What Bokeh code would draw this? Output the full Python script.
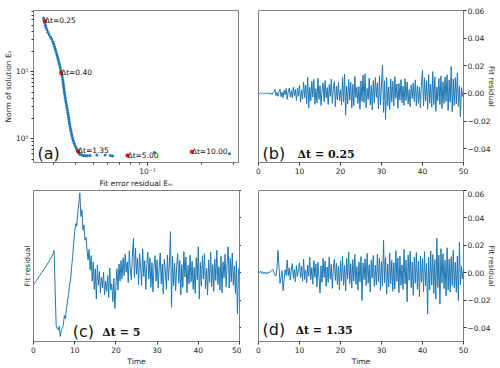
import numpy as np
from bokeh.plotting import figure
from bokeh.layouts import column, row
from bokeh.models import Range1d, FixedTicker, LinearAxis, Label, CustomJSTickFormatter
from bokeh.core.properties import value
from bokeh.embed import file_html
from bokeh.resources import INLINE

# ---------------- panel (a): E_m vs E_s ----------------
Em_curve = [0.02644, 0.02661, 0.02685, 0.02706, 0.02730, 0.02762, 0.02797, 0.02840, 0.02892, 0.02937,
            0.02978, 0.03013, 0.03043, 0.03071, 0.03095, 0.03122, 0.03150, 0.03175, 0.03199, 0.03228,
            0.03252, 0.03273, 0.03294, 0.03320, 0.03341, 0.03363, 0.03380, 0.03393, 0.03406, 0.03419,
            0.03433, 0.03446, 0.03463, 0.03481, 0.03494, 0.03512, 0.03530, 0.03548, 0.03566, 0.03589,
            0.03608, 0.03626, 0.03640, 0.03659, 0.03678, 0.03697, 0.03715, 0.03734, 0.03758, 0.03782,
            0.03807, 0.03836, 0.03871, 0.03910, 0.03956, 0.04012, 0.04064, 0.04116, 0.04164, 0.04235,
            0.04328, 0.04424, 0.04527, 0.04632, 0.04795, 0.05229, 0.05821, 0.06207, 0.06392, 0.1094, 0.2855]
Es_curve = [63.5, 58.56, 54.0, 49.8, 45.9, 42.35, 39.05, 36.0, 33.2, 30.6,
            28.23, 26.03, 24.0, 22.14, 20.41, 18.82, 17.36, 16.0, 14.76, 13.61,
            12.55, 11.57, 10.67, 9.84, 9.07, 8.37, 7.72, 7.11, 6.56, 6.05,
            5.58, 5.14, 4.745, 4.375, 4.034, 3.72, 3.43, 3.162, 2.916, 2.689,
            2.480, 2.287, 2.108, 1.944, 1.793, 1.653, 1.524, 1.406, 1.296, 1.195,
            1.102, 1.016, 0.937, 0.864, 0.797, 0.735, 0.689, 0.645, 0.605, 0.586,
            0.573, 0.565, 0.562, 0.562, 0.565, 0.576, 0.576, 0.565, 0.558, 0.629, 0.601]
Em_marked = [0.02688, 0.03307, 0.04100, 0.07743, 0.1762]
Es_marked = [57.6, 9.68, 0.662, 0.567, 0.641]
marked_labels = ["Δt=0.25", "Δt=0.40", "Δt=1.35", "Δt=5.00", "Δt=10.00"]
a_xticks = [0.1]
a_xtick_labels = {0.1: "10⁻¹"}
a_xminor = [0.03, 0.04, 0.05, 0.06, 0.07, 0.08, 0.09, 0.2, 0.3]
a_yticks = [1, 10]
a_ytick_labels = {1: "10⁰", 10: "10¹"}
a_yminor = [0.5, 0.6, 0.7, 0.8, 0.9, 2, 3, 4, 5, 6, 7, 8, 9, 20, 30, 40, 50, 60, 70, 80]

# ---------------- residual panels (values in units of 1e-3) ----------------
time = np.arange(201) * 0.25
res_b_milli = [
    0.2, -0.3, 0.4, -0.2,  0.3, -0.4, 0.1, -0.3,  0.5, -0.2, 0.3, -0.6,  0.4, -0.9, 0.5, 1.3,
    2.9, -1.6, 0.7, -2.1,  1.2, 3.0, -2.4, 0.9,  -3.1, 2.2, -1.0, 3.6,  -4.3, 1.4, 3.8, -2.6,
    2.0, -3.2, 4.6, -1.5,  2.8, -5.2, 3.9, -2.0,  5.8, -6.3, 2.4, -4.1,  8.2, -3.0, 6.1, -7.4,
    11.6, -10.5, 4.3, -5.2,  8.8, -2.7, 10.1, -7.9,  3.4, -6.8, 10.9, -4.4,  5.6, -8.7, 2.5, 7.5,
    -5.9, 9.4, -3.1, 4.2,  -8.0, 6.4, -2.2, 10.3,  -7.1, 3.3, 8.6, -9.6,  5.1, -4.6, 7.9, -5.3,
    2.7, -8.4, 11.8, -6.2,  13.9, -15.8, 5.2, -7.7,  10.2, -4.9, 8.1, -10.6,  6.6, -8.8, 12.3, -3.2,
    4.5, -7.3, 5.0, -11.4,  9.1, -5.7, 13.2, -6.6,  14.2, -10.4, 3.6, -4.3,  11.0, -8.2, 5.8, -12.1,
    9.4, -6.9, 11.5, -2.8,  7.7, -11.2, 12.8, -8.3,  6.1, 20.6, -13.7, 9.2,  -18.8, 11.4, -9.1, 4.7,
    -11.6, 10.5, -6.2, 8.9,  -9.0, 12.1, -3.5, 6.8,  -10.7, 7.2, -4.8, 9.9,  -6.9, 5.3, -8.6, 10.6,
    -5.1, 8.3, -7.8, 2.9,  -9.6, 6.2, -3.7, 7.6,  -6.1, 9.8, -9.0, 5.5,  -7.2, 4.6, -10.4, 8.1,
    16.7, -8.9, 11.3, -5.6,  9.2, -11.5, 13.6, -7.1,  6.8, -10.0, 15.8, -8.2,  12.0, -13.0, 4.7, -5.3,
    10.8, -8.1, 12.6, -11.0,  8.4, -7.2, 11.9, -5.8,  13.5, -12.2, 9.7, -6.3,  19.4, -13.3, 10.4, -8.7,
    11.5, -7.7, 14.6, -9.4,  5.3, -16.9, 4.1, -2.2,  1.0]
res_c_milli = [
    -8.4, -7.6, -6.5, -5.3,  -4.4, -3.0, -2.1, -0.8,  0.3, 1.2, 2.6, 3.5,  4.9, 5.8, 7.2, 8.1,
    9.6, 11.0, 12.3, 14.0,  16.3, -12.0, -38.2, -40.6,  -41.5, -39.0, -46.3, -42.0,  -40.2, -37.5, -31.0, -33.5,
    -26.0, -20.5, -16.4, -9.0,  -5.0, 4.0, 12.0, 21.4,  30.0, 36.0, 34.0, 44.0,  50.0, 58.3, 41.0, 46.0,
    31.0, 35.0, 23.8, 26.0,  16.6, 9.5, 17.0, 2.0,  12.5, -6.0, 8.0, -12.0,  3.0, -19.0, 5.5, -9.0,
    1.0, -14.5, -3.0, -11.0,  0.5, -16.0, -6.0, -13.5,  -2.0, -18.0, 3.5, -12.5,  -8.0, -21.0, -4.0, -26.0,
    -10.0, 3.0, -12.5, 6.5,  -6.0, 9.0, -4.5, 11.0,  -2.0, 13.5, 0.5, 8.0,  -7.0, 16.0, 2.5, -5.0,
    12.0, 25.0, -3.5, 18.0,  -1.0, 10.5, -8.5, 14.0,  4.0, -9.0, 17.5, -2.5,  9.0, -12.0, 6.0, 15.0,
    -4.5, 11.0, -10.5, 7.5,  -14.0, 5.0, 12.5, -6.0,  9.5, -11.0, 3.0, 14.5,  -8.0, 6.5, -15.5, 10.0,
    1.5, -12.0, 13.0, -5.5,  8.0, 30.0, -25.0, 12.0,  -9.5, 7.0, -13.0, 4.5,  14.0, -7.5, 9.0, -16.0,
    6.0, -10.5, 15.5, -3.0,  11.5, -14.5, 5.5, -8.0,  13.0, -6.5, 8.5, -12.0,  4.0, -15.0, 11.0, -5.0,
    19.0, -19.0, 7.5, -9.5,  12.5, -4.5, 14.0, -11.5,  3.5, -16.0, 9.5, -7.0,  15.0, -10.0, 6.0, -13.5,
    10.0, -5.5, 16.5, -8.5,  4.5, -12.5, 12.0, -14.5,  8.0, -3.5, 13.5, -10.0,  6.5, 19.0, -11.0, 10.5,
    -6.5, 14.5, -9.0, 5.0,  -15.0, 8.5, -30.0, 2.0,  4.0]
res_d_milli = [
    0.8, 0.3, 1.2, -0.4,  0.9, -0.6, 0.5, -0.9,  0.4, -0.5, 0.8, 0.2,  1.1, 1.8, 2.6, 0.5,
    -1.5, -2.3, 3.0, 16.4,  4.0, -7.6, -3.2, 1.5,  -13.0, -4.5, 2.3, -1.8,  9.5, -2.1, 3.6, -5.2,
    1.9, 6.8, -4.0, 2.4,  -6.5, 5.3, -2.7, 3.1,  7.4, -3.6, 4.9, -6.1,  10.1, -4.8, 2.2, -7.3,
    5.7, -2.5, 11.4, -5.0,  3.8, -8.2, 9.0, -3.3,  6.4, -10.2, 7.8, -2.6,  -14.7, 5.1, -6.9, 10.6,
    -3.4, 8.7, -9.8, 4.3,  -7.0, 11.7, -4.6, 6.2,  -11.3, 3.7, 9.9, -5.5,  7.1, -8.6, 4.8, -12.4,
    8.9, -6.0, 12.0, -9.1,  5.4, -13.2, 10.5, -4.2,  15.3, -7.8, 6.7, -11.1,  9.6, -5.9, 13.4, -8.4,
    4.6, -12.6, 8.0, -6.6,  11.9, -20.1, 7.3, -4.9,  10.2, -9.3, 14.1, -7.5,  6.0, -13.8, 9.4, -3.8,
    12.7, -10.0, 5.6, -8.8,  13.6, -6.4, 10.8, -12.9,  8.2, -9.7, 23.8, -7.1,  11.0, -15.6, 6.5, -10.3,
    14.5, -8.0, 9.1, -13.5,  7.4, -11.8, 16.2, -6.3,  10.9, -14.4, 12.2, -9.0,  5.8, -12.0, 17.1, -8.1,
    9.3, -21.0, 13.0, -5.4,  15.8, -10.8, 7.9, -16.3,  11.6, -7.6, 14.8, -11.9,  8.6, -17.4, 12.4, -6.8,
    10.4, -13.7, 15.4, -9.5,  6.9, -30.0, 11.2, -12.3,  16.0, -8.9, 13.3, -15.0,  9.7, -19.2, 25.3, -10.6,
    12.9, -22.8, 17.6, -7.4,  14.0, -11.4, 9.2, -16.8,  18.3, -12.5, 10.0, -13.9,  11.8, -9.2, 16.5, -10.9,
    7.7, -14.2, 12.1, -20.3,  22.4, -8.5, 4.7, -4.4,  2.6]
t_ticks = [0, 10, 20, 30, 40, 50]
r_ticks = [-0.04, -0.02, 0.0, 0.02, 0.04, 0.06]
r_tick_labels = {-0.04: "−0.04", -0.02: "−0.02", 0.0: "0.00", 0.02: "0.02", 0.04: "0.04", 0.06: "0.06"}

BLUE = "#1f77b4"
FONT = "DejaVu Sans"
TICK_FS = "7.5px"


def style_axis(ax):
    ax.axis_line_color = None
    ax.major_tick_out = 3
    ax.major_tick_in = 0
    ax.minor_tick_out = 0
    ax.minor_tick_in = 0
    ax.major_tick_line_color = "#333333"
    ax.major_label_text_font = FONT
    ax.major_label_text_font_size = TICK_FS
    ax.major_label_text_color = "#222222"
    ax.major_label_standoff = 2
    ax.axis_label_text_font = FONT
    ax.axis_label_text_font_size = TICK_FS
    ax.axis_label_text_font_style = "normal"
    ax.axis_label_text_color = "#222222"
    ax.axis_label_standoff = 2


def style_fig(p):
    p.outline_line_color = "#808080"
    p.outline_line_width = 1
    p.xgrid.grid_line_color = None
    p.ygrid.grid_line_color = None
    p.background_fill_color = "white"
    p.border_fill_color = "white"
    for ax in p.axis:
        style_axis(ax)


# ---------- (a) ----------
pa = figure(width=250, height=190, x_axis_type="log", y_axis_type="log",
            x_range=Range1d(0.02326, 0.3203), y_range=Range1d(0.4446, 82.3),
            output_backend="svg", toolbar_location=None,
            min_border_left=33, min_border_right=12, min_border_top=4, min_border_bottom=25)
style_fig(pa)
pa.xaxis.ticker = FixedTicker(ticks=a_xticks, minor_ticks=a_xminor)
pa.yaxis.ticker = FixedTicker(ticks=a_yticks, minor_ticks=a_yminor)
pa.xaxis.major_label_overrides = a_xtick_labels
pa.yaxis.major_label_overrides = a_ytick_labels
pa.xaxis.minor_tick_out = 2
pa.yaxis.minor_tick_out = 2
pa.xaxis.minor_tick_line_color = "#333333"
pa.yaxis.minor_tick_line_color = "#333333"
pa.yaxis.major_label_standoff = 2
pa.yaxis.axis_label_standoff = 0
pa.xaxis.major_label_standoff = 1
pa.xaxis.axis_label_standoff = 0
pa.xaxis.axis_label = "Fit error residual Eₘ"
pa.yaxis.axis_label = "Norm of solution Eₛ"
pa.scatter(Em_curve, Es_curve, size=3, color=BLUE, line_color=None)
pa.scatter(Em_marked, Es_marked, size=4, color="red", line_color=None)
pa.text(Em_marked, Es_marked, text=marked_labels, text_font=value(FONT),
        text_font_size="7.5px", text_align="left", text_baseline="alphabetic",
        text_color="#111111")
pa.add_layout(Label(x=0.0245, y=0.615, text="(a)", text_font=FONT, text_font_size="16px",
                    text_baseline="alphabetic", text_color="#111111"))


def residual_fig(width, height, mb_left, mb_right, mb_top, mb_bottom, loc):
    p = figure(width=width, height=height, x_range=Range1d(0, 50), y_range=Range1d(-0.05, 0.06),
               output_backend="svg", toolbar_location=None, y_axis_location=loc,
               min_border_left=mb_left, min_border_right=mb_right,
               min_border_top=mb_top, min_border_bottom=mb_bottom)
    style_fig(p)
    p.xaxis.ticker = FixedTicker(ticks=t_ticks)
    return p


def panel_labels(p, tag, tx, ty, dtext, dx, dy):
    p.add_layout(Label(x=tx, y=ty, text=tag, text_font=FONT, text_font_size="16px",
                       text_baseline="alphabetic", text_color="#111111"))
    p.add_layout(Label(x=dx, y=dy, text=dtext, text_font="DejaVu Serif", text_font_size="11px",
                       text_font_style="bold", text_baseline="alphabetic", text_color="#111111"))


def right_axis_style(p):
    p.yaxis.ticker = FixedTicker(ticks=r_ticks)
    p.yaxis.major_label_overrides = r_tick_labels
    p.yaxis.axis_label = "Fit residual"
    p.yaxis.major_tick_out = 3
    p.yaxis.major_label_standoff = 1
    p.yaxis.axis_label_standoff = -6


# ---------- (b) ----------
pb = residual_fig(250, 190, 8, 37, 10, 27, "right")
right_axis_style(pb)
pb.line(time, np.array(res_b_milli) * 1e-3, color=BLUE, line_width=1)
panel_labels(pb, "(b)", 1.0, -0.0435, "Δt = 0.25", 9.5, -0.0442)

# ---------- (c) ----------
pc = residual_fig(241, 178, 33, 2, 0, 25, "left")
pc.yaxis.ticker = FixedTicker(ticks=[])
pc.yaxis.axis_label = "Fit residual"
pc.xaxis.axis_label = "Time"
pc.xaxis.axis_label_standoff = 1
rax = LinearAxis(ticker=FixedTicker(ticks=r_ticks),
                 formatter=CustomJSTickFormatter(code="return '';"))
pc.add_layout(rax, "right")
style_axis(rax)
rax.major_tick_out = 2
rax.major_label_standoff = 0
pc.line(time, np.array(res_c_milli) * 1e-3, color=BLUE, line_width=1)
panel_labels(pc, "(c)", 9.5, -0.0428, "Δt = 5", 16.7, -0.0435)

# ---------- (d) ----------
pd_ = residual_fig(259, 178, 17, 37, 0, 25, "right")
right_axis_style(pd_)
pd_.xaxis.axis_label = "Time"
pd_.xaxis.axis_label_standoff = 1
pd_.line(time, np.array(res_d_milli) * 1e-3, color=BLUE, line_width=1)
panel_labels(pd_, "(d)", 1.0, -0.0414, "Δt = 1.35", 9.0, -0.0421)

layout = column(row(pa, pb), row(pc, pd_))
open("out.html", "w").write(file_html(layout, INLINE))
